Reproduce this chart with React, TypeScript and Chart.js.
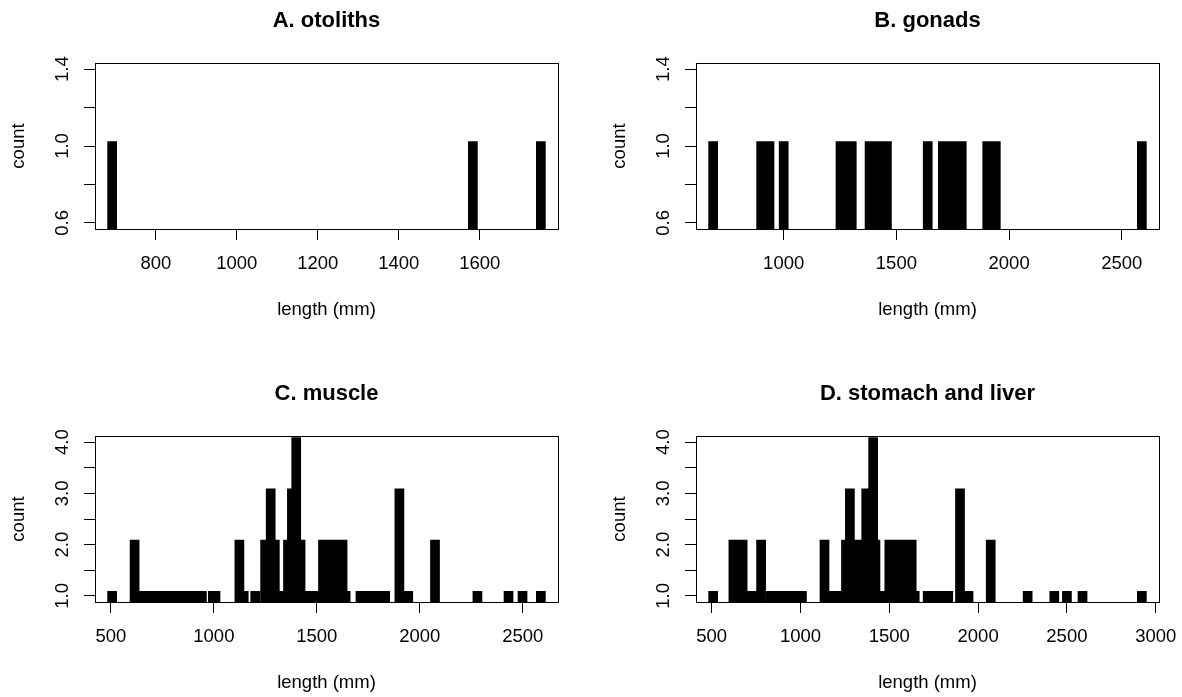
import React, { useEffect, useRef } from 'react';
import { Chart, registerables } from 'chart.js';

Chart.register(...registerables);

const FONT = '"Liberation Sans", Arial, Helvetica, sans-serif';

// A. otoliths
const otolithLengths = [692, 1583, 1751];
const otolithCounts = [1, 1, 1];

// B. gonads
const gonadLengths = [687, 900, 937, 1000, 1252, 1277, 1302, 1381, 1420, 1458, 1639, 1706, 1748, 1790, 1903, 1941, 2589];
const gonadCounts = [1, 1, 1, 1, 1, 1, 1, 1, 1, 1, 1, 1, 1, 1, 1, 1, 1];

// C. muscle
const muscleLengths = [506, 615, 650, 690, 730, 770, 810, 850, 890, 920, 942, 995, 1008, 1124, 1145, 1201, 1249, 1276, 1296, 1328, 1360, 1379, 1400, 1421, 1445, 1475, 1505, 1530, 1560, 1590, 1625, 1640, 1712, 1752, 1792, 1832, 1901, 1944, 2074, 2280, 2431, 2499, 2588];
const muscleCounts = [1, 2, 1, 1, 1, 1, 1, 1, 1, 1, 1, 1, 1, 2, 1, 1, 2, 3, 2, 1, 2, 3, 4, 2, 1, 1, 1, 2, 2, 2, 2, 1, 1, 1, 1, 1, 3, 1, 2, 1, 1, 1, 1];

// D. stomach and liver
const stomachLengths = [508, 622, 674, 727, 778, 833, 878, 923, 968, 1008, 1135, 1170, 1210, 1256, 1278, 1330, 1370, 1409, 1422, 1454, 1500, 1545, 1585, 1626, 1643, 1716, 1755, 1795, 1832, 1898, 1946, 2071, 2279, 2429, 2500, 2588, 2922];
const stomachCounts = [1, 2, 2, 1, 2, 1, 1, 1, 1, 1, 2, 1, 1, 2, 3, 2, 3, 4, 2, 1, 2, 2, 2, 2, 1, 1, 1, 1, 1, 3, 1, 2, 1, 1, 1, 1, 1];

const xTicksA = [800, 1000, 1200, 1400, 1600];
const xTicksB = [1000, 1500, 2000, 2500];
const xTicksC = [500, 1000, 1500, 2000, 2500];
const xTicksD = [500, 1000, 1500, 2000, 2500, 3000];

const yTicksTop = [0.6, 0.8, 1.0, 1.2, 1.4];
const yLabelsTop = ['0.6', '', '1.0', '', '1.4'];
const yTicksBottom = [1, 1.5, 2, 2.5, 3, 3.5, 4];
const yLabelsBottom = ['1.0', '', '2.0', '', '3.0', '', '4.0'];

const titles = ['A. otoliths', 'B. gonads', 'C. muscle', 'D. stomach and liver'];
const xAxisLabel = 'length (mm)';
const yAxisLabel = 'count';

// R-style axis range (4% extension, zero-range widened by 40%)
function rRange(vals: number[]): [number, number] {
  let lo = Math.min(...vals);
  let hi = Math.max(...vals);
  if (lo === hi) {
    lo = lo * 0.6;
    hi = hi * 1.4;
  }
  const d = (hi - lo) * 0.04;
  return [lo - d, hi + d];
}

function stems(lengths: number[], counts: number[]) {
  const pts: { x: number; y: number | null }[] = [];
  lengths.forEach((x, i) => {
    pts.push({ x, y: 0 }, { x, y: counts[i] }, { x, y: null });
  });
  return pts;
}

const boxPlugin = {
  id: 'rbox',
  afterDatasetsDraw(chart: any) {
    const { ctx, chartArea } = chart;
    const l = Math.round(chartArea.left);
    const t = Math.round(chartArea.top);
    const r = Math.round(chartArea.right);
    const b = Math.round(chartArea.bottom);
    ctx.save();
    ctx.strokeStyle = '#000';
    ctx.lineWidth = 1;
    ctx.strokeRect(l + 0.5, t + 0.5, r - l, b - t);
    ctx.restore();
  },
};

type PanelProps = {
  left: number;
  top: number;
  title: string;
  lengths: number[];
  counts: number[];
  xTicks: number[];
  yTicks: number[];
  yLabels: string[];
};

function Panel({ left, top, title, lengths, counts, xTicks, yTicks, yLabels }: PanelProps) {
  const ref = useRef<HTMLCanvasElement | null>(null);
  useEffect(() => {
    if (!ref.current) return;
    const xr = rRange(lengths);
    const yr = rRange(counts);
    const tickFont = { family: FONT, size: 18.5 };
    const chart = new Chart(ref.current, {
      type: 'scatter',
      data: {
        datasets: [
          {
            data: stems(lengths, counts) as any,
            showLine: true,
            borderColor: '#000',
            backgroundColor: '#000',
            borderWidth: 9.7,
            borderCapStyle: 'square',
            pointRadius: 0,
            pointHoverRadius: 0,
            spanGaps: false,
            clip: 0,
            tension: 0,
            fill: false,
          } as any,
        ],
      },
      options: {
        responsive: false,
        animation: false,
        devicePixelRatio: 1,
        events: [],
        layout: { padding: { left: 0, right: 33, top: 0, bottom: 0 } },
        plugins: {
          legend: { display: false },
          tooltip: { enabled: false },
          title: {
            display: true,
            text: title,
            color: '#000',
            fullSize: false,
            font: { family: FONT, size: 22, weight: 'bold', lineHeight: 1.2 },
            padding: { top: 8, bottom: 28.6 },
          },
        },
        scales: {
          x: {
            type: 'linear',
            position: 'bottom',
            min: xr[0],
            max: xr[1],
            afterBuildTicks: (axis: any) => {
              axis.ticks = xTicks.map((v) => ({ value: v }));
            },
            afterFit: (s: any) => {
              s.height = 111;
            },
            grid: {
              display: true,
              drawOnChartArea: false,
              drawTicks: true,
              tickLength: 11,
              color: '#000',
              lineWidth: 1,
            },
            border: { display: false },
            ticks: {
              autoSkip: false,
              minRotation: 0,
              maxRotation: 0,
              padding: 13,
              color: '#000',
              font: tickFont,
              callback: (v: any) => String(v),
            },
            title: {
              display: true,
              text: xAxisLabel,
              color: '#000',
              font: { family: FONT, size: 18.5, lineHeight: 1.2 },
              padding: { top: 0, bottom: 18.9 },
            },
          },
          y: {
            type: 'linear',
            position: 'left',
            min: yr[0],
            max: yr[1],
            afterBuildTicks: (axis: any) => {
              axis.ticks = yTicks.map((v) => ({ value: v }));
            },
            afterFit: (s: any) => {
              s.width = 95;
            },
            grid: {
              display: true,
              drawOnChartArea: false,
              drawTicks: true,
              tickLength: 11,
              color: '#000',
              lineWidth: 1,
            },
            border: { display: false },
            ticks: {
              autoSkip: false,
              minRotation: 90,
              maxRotation: 90,
              crossAlign: 'center',
              padding: 8,
              color: '#000',
              font: tickFont,
              callback: (v: any) => {
                const i = yTicks.findIndex((t) => Math.abs(t - Number(v)) < 1e-9);
                return i >= 0 ? yLabels[i] : '';
              },
            },
            title: {
              display: true,
              text: yAxisLabel,
              color: '#000',
              font: { family: FONT, size: 18.5, lineHeight: 1.2 },
              padding: { top: 8.2, bottom: 0 },
            },
          },
        },
      } as any,
      plugins: [boxPlugin],
    });
    return () => chart.destroy();
  }, [title, lengths, counts, xTicks, yTicks, yLabels]);

  return (
    <canvas
      ref={ref}
      width={591}
      height={340}
      style={{ position: 'absolute', left, top, width: 591, height: 340 }}
    />
  );
}

export default function App() {
  return (
    <div
      style={{
        position: 'absolute',
        left: 0,
        top: 0,
        width: 1182,
        height: 697,
        overflow: 'hidden',
        background: '#fff',
      }}
    >
      <Panel left={0} top={0} title={titles[0]} lengths={otolithLengths} counts={otolithCounts} xTicks={xTicksA} yTicks={yTicksTop} yLabels={yLabelsTop} />
      <Panel left={601} top={0} title={titles[1]} lengths={gonadLengths} counts={gonadCounts} xTicks={xTicksB} yTicks={yTicksTop} yLabels={yLabelsTop} />
      <Panel left={0} top={373} title={titles[2]} lengths={muscleLengths} counts={muscleCounts} xTicks={xTicksC} yTicks={yTicksBottom} yLabels={yLabelsBottom} />
      <Panel left={601} top={373} title={titles[3]} lengths={stomachLengths} counts={stomachCounts} xTicks={xTicksD} yTicks={yTicksBottom} yLabels={yLabelsBottom} />
    </div>
  );
}
